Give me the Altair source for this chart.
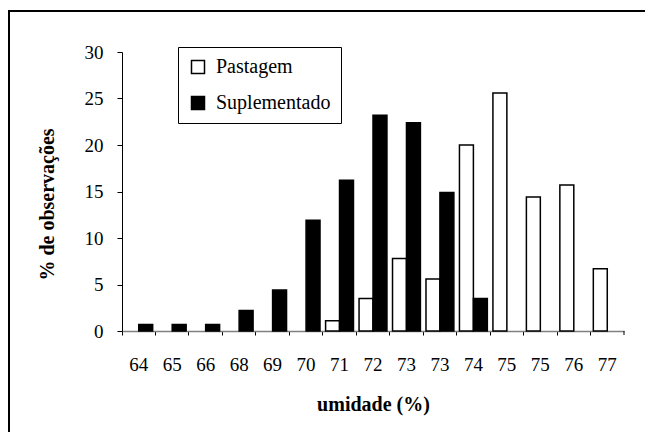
import altair as alt
import pandas as pd

labels = ["64", "65", "66", "68", "69", "70", "71", "72", "73", "73", "74", "75", "75", "76", "77"]
series_names = ["Pastagem", "Suplementado"]
pastagem = [0, 0, 0, 0, 0, 0, 1.1, 3.5, 7.8, 5.6, 20.0, 25.6, 14.4, 15.7, 6.7]
suplementado = [0.7, 0.7, 0.7, 2.2, 4.4, 11.9, 16.2, 23.2, 22.4, 14.9, 3.5, 0, 0, 0, 0]
y_ticks = [0, 5, 10, 15, 20, 25, 30]

rows = []
for i, lab in enumerate(labels):
    for name, vals in zip(series_names, [pastagem, suplementado]):
        if vals[i] > 0:
            rows.append({"pos": i, "label": lab, "series": name, "value": vals[i]})
df = pd.DataFrame(rows)

label_expr = "[" + ",".join("'" + l + "'" for l in labels) + "][datum.value]"

FONT = "Liberation Serif"
W, H = 502, 279
PAD = {"left": 114, "top": 44, "right": 21, "bottom": 101}

bars = alt.Chart(df).mark_bar(stroke="black", strokeWidth=1.5).encode(
    x=alt.X(
        "pos:O",
        scale=alt.Scale(domain=list(range(len(labels))), paddingInner=0, paddingOuter=0),
        axis=alt.Axis(
            title="umidade (%)",
            labelExpr=label_expr,
            labelAngle=0,
            bandPosition=0,
            domainColor="#808080",
            domainWidth=1.5,
            tickColor="black",
            tickSize=4,
            labelPadding=20,
            labelFont=FONT,
            labelFontSize=19,
            labelColor="black",
            titleFont=FONT,
            titleFontSize=20,
            titleFontWeight="bold",
            titleColor="black",
            titleX=W / 2,
            titleY=79,
            titleAlign="center",
            titleBaseline="alphabetic",
            grid=False,
        ),
    ),
    xOffset=alt.XOffset(
        "series:N",
        scale=alt.Scale(domain=series_names, paddingInner=0, paddingOuter=0.2),
    ),
    y=alt.Y(
        "value:Q",
        scale=alt.Scale(domain=[0, 30], nice=False),
        axis=alt.Axis(
            title="% de observações",
            values=y_ticks,
            format="d",
            grid=False,
            domainColor="black",
            tickColor="black",
            tickSize=5,
            labelPadding=14,
            labelFont=FONT,
            labelFontSize=19,
            labelColor="black",
            titleFont=FONT,
            titleFontSize=20,
            titleFontWeight="bold",
            titleColor="black",
            titleAngle=270,
            titleX=-69,
            titleY=152,
            titleAlign="center",
            titleBaseline="alphabetic",
        ),
    ),
    color=alt.Color(
        "series:N",
        scale=alt.Scale(domain=series_names, range=["white", "black"]),
        legend=alt.Legend(
            title=None,
            orient="none",
            legendX=56,
            legendY=-5,
            symbolType="square",
            symbolSize=169,
            symbolStrokeColor="black",
            symbolStrokeWidth=1.5,
            labelFont=FONT,
            labelFontSize=20,
            labelColor="black",
            labelOffset=8,
            rowPadding=16,
            padding=10,
            strokeColor="black",
            fillColor="white",
        ),
    ),
)

one = pd.DataFrame({"k": [0]})

end_tick = alt.Chart(one).mark_rule(color="black", strokeWidth=1).encode(
    x=alt.value(W), y=alt.value(H), y2=alt.value(H + 4)
)

# outer frame of the figure: only its top and left edges fall inside the picture
right_edge = W + PAD["right"]
bottom_edge = H + PAD["bottom"]
frame_top = alt.Chart(one).mark_rule(color="black", strokeWidth=2).encode(
    x=alt.value(-113), x2=alt.value(right_edge), y=alt.value(-41)
)
frame_left = alt.Chart(one).mark_rule(color="black", strokeWidth=2).encode(
    x=alt.value(-113), y=alt.value(-42), y2=alt.value(bottom_edge)
)

chart = alt.layer(bars, end_tick, frame_top, frame_left).properties(
    width=W,
    height=H,
    autosize=alt.AutoSizeParams(type="none"),
    padding=PAD,
).configure(font=FONT, background="white").configure_view(stroke=None)

chart.save("out.html", embed_options={"renderer": "svg", "actions": False})
